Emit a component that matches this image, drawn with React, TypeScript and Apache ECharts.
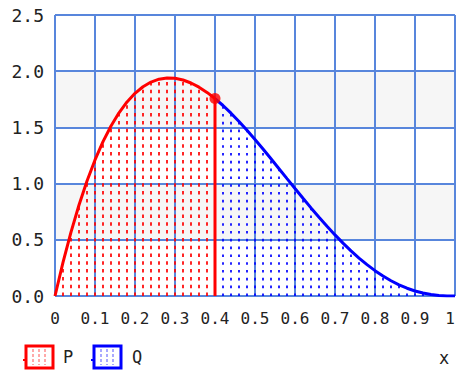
import React, { useEffect, useRef } from "react";
import * as echarts from "echarts";

// Sample positions along x and the density read at each of them
const xValues = [
  0, 0.02, 0.04, 0.06, 0.08, 0.1, 0.12, 0.14, 0.16, 0.18,
  0.2, 0.22, 0.24, 0.26, 0.28, 0.3, 0.32, 0.34, 0.36, 0.38,
  0.4, 0.42, 0.44, 0.46, 0.48, 0.5, 0.52, 0.54, 0.56, 0.58,
  0.6, 0.62, 0.64, 0.66, 0.68, 0.7, 0.72, 0.74, 0.76, 0.78,
  0.8, 0.82, 0.84, 0.86, 0.88, 0.9, 0.92, 0.94, 0.96, 0.98, 1,
];
const density = [
  0, 0.2995, 0.5689, 0.8096, 1.0229, 1.2103, 1.373, 1.5124, 1.6297, 1.7262,
  1.8032, 1.8618, 1.9034, 1.929, 1.9399, 1.9371, 1.9218, 1.895, 1.8579, 1.8115,
  1.7568, 1.6948, 1.6263, 1.5525, 1.4741, 1.3921, 1.3073, 1.2206, 1.1327, 1.0443,
  0.9563, 0.8692, 0.7838, 0.7007, 0.6204, 0.5435, 0.4704, 0.4017, 0.3378, 0.2789,
  0.2254, 0.1775, 0.1355, 0.0993, 0.0691, 0.0448, 0.0262, 0.0131, 0.0048, 0.0009, 0,
];
const cutoff = 0.4;
const cutoffValue = 1.7568;

const xTicks = { min: 0, max: 1, interval: 0.1 };
const yTicks = { min: 0, max: 2.5, interval: 0.5 };

const legendNames = ["P", "Q"];
const axisName = "x";

const RED = "#ff0000";
const BLUE = "#0000ff";
const GRID_BLUE = "#5886dc";
const FONT = "DejaVu Sans Mono";

const points: [number, number][] = xValues.map((x, i) => [x, density[i]]);
const leftPoints = points.filter((p) => p[0] <= cutoff + 1e-9);
const rightPoints = points.filter((p) => p[0] >= cutoff - 1e-9);
const leftHatch = points.filter((p) => p[0] > 0 && p[0] < cutoff - 1e-9);
const rightHatch = points.filter((p) => p[0] > cutoff + 1e-9 && p[0] < 1);

function hatchSeries(data: [number, number][], color: string, dash: number[]) {
  return {
    type: "custom",
    z: 2,
    silent: true,
    data,
    renderItem: (params: any, api: any) => {
      const bottom = api.coord([api.value(0), 0]);
      const top = api.coord([api.value(0), api.value(1)]);
      return {
        type: "line",
        shape: { x1: bottom[0], y1: bottom[1], x2: top[0], y2: top[1] },
        style: { stroke: color, lineWidth: 1.7, lineDash: dash },
      };
    },
  };
}

function legendIcon(x: number, color: string) {
  const top = 346;
  const w = 27;
  const h = 22;
  const midY = top + h / 2 + 3;
  const hatch = [7, 13, 19].map((dx) => ({
    type: "line",
    shape: { x1: x + dx, y1: top + 3, x2: x + dx, y2: top + h - 3 },
    style: { stroke: color, lineWidth: 1.5, lineDash: [3, 2], opacity: 0.45 },
  }));
  return [
    {
      type: "line",
      shape: { x1: x - 3, y1: midY, x2: x, y2: midY },
      style: { stroke: color, lineWidth: 2 },
    },
    {
      type: "rect",
      shape: { x, y: top, width: w, height: h },
      style: { fill: "#ffffff", stroke: color, lineWidth: 3 },
    },
    ...hatch,
  ];
}

export default function App() {
  const ref = useRef<HTMLDivElement>(null);

  useEffect(() => {
    if (!ref.current) return;
    const chart = echarts.init(ref.current, null, { renderer: "svg" });
    chart.setOption({
      animation: false,
      backgroundColor: "#ffffff",
      grid: { left: 55, right: 2, top: 15, bottom: 79, containLabel: false },
      xAxis: {
        type: "value",
        ...xTicks,
        axisLine: { show: false },
        axisTick: { show: false },
        splitLine: { show: true, lineStyle: { color: GRID_BLUE, width: 2 } },
        axisLabel: {
          margin: 14,
          fontFamily: FONT,
          fontSize: 16,
          color: "#222222",
          alignMaxLabel: "right",
        },
      },
      yAxis: {
        type: "value",
        ...yTicks,
        axisLine: { show: false },
        axisTick: { show: false },
        splitLine: { show: true, lineStyle: { color: GRID_BLUE, width: 2 } },
        splitArea: { show: true, areaStyle: { color: ["#ffffff", "#f6f6f6"] } },
        axisLabel: {
          margin: 11,
          fontFamily: FONT,
          fontSize: 18,
          color: "#222222",
          formatter: (v: number) => v.toFixed(1),
        },
      },
      series: [
        hatchSeries(leftHatch, RED, [3.5, 4.3]),
        hatchSeries(rightHatch, BLUE, [2.6, 5.2]),
        {
          type: "line",
          name: legendNames[0],
          data: leftPoints,
          symbol: "none",
          z: 3,
          lineStyle: { color: RED, width: 3 },
        },
        {
          type: "line",
          name: legendNames[1],
          data: rightPoints,
          symbol: "none",
          z: 3,
          lineStyle: { color: BLUE, width: 3 },
        },
        {
          type: "line",
          data: [
            [cutoff, 0],
            [cutoff, cutoffValue],
          ],
          symbol: "none",
          z: 4,
          lineStyle: { color: RED, width: 3 },
        },
        {
          type: "scatter",
          data: [[cutoff, cutoffValue]],
          symbol: "circle",
          symbolSize: 11,
          z: 5,
          itemStyle: { color: RED },
        },
      ],
      graphic: [
        ...legendIcon(26, RED),
        {
          type: "text",
          x: 63,
          y: 357,
          style: {
            text: legendNames[0],
            font: `17px '${FONT}'`,
            fill: "#222222",
            verticalAlign: "middle",
          },
        },
        ...legendIcon(94, BLUE),
        {
          type: "text",
          x: 132,
          y: 357,
          style: {
            text: legendNames[1],
            font: `17px '${FONT}'`,
            fill: "#222222",
            verticalAlign: "middle",
          },
        },
        {
          type: "text",
          x: 439,
          y: 358,
          style: {
            text: axisName,
            font: `17px '${FONT}'`,
            fill: "#222222",
            verticalAlign: "middle",
          },
        },
      ],
    });
    return () => chart.dispose();
  }, []);

  return (
    <div
      ref={ref}
      style={{ position: "fixed", left: 0, top: 0, width: 458, height: 375 }}
    />
  );
}
